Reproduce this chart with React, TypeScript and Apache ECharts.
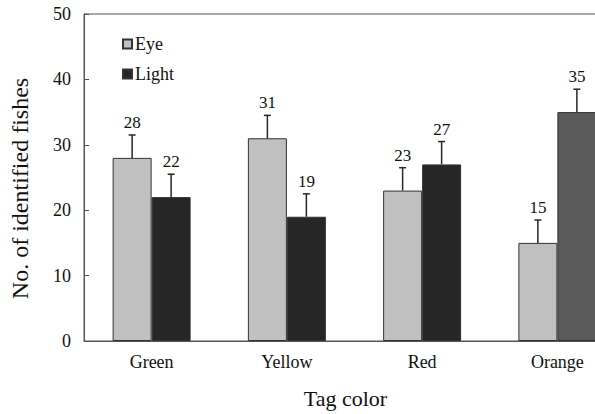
import React, { useEffect, useRef } from "react";
import * as echarts from "echarts";

const categories = ["Green", "Yellow", "Red", "Orange"];
const eyeValues = [28, 31, 23, 15];
const lightValues = [22, 19, 27, 35];
const eyeErrors = [3.5, 3.5, 3.5, 3.5];
const lightErrors = [3.5, 3.5, 3.5, 3.5];
const yTicks = { min: 0, max: 50, interval: 10 };

const FONT = "'Liberation Serif', 'Times New Roman', serif";
const EYE_COLOR = "#c0c0c0";
const LIGHT_COLOR = "#262626";
const ORANGE_LIGHT_COLOR = "#5a5a5a";
const BAR_W = 39;

function errorSeries(values: number[], errors: number[], offset: number) {
  return {
    type: "custom",
    z: 5,
    clip: false,
    silent: true,
    encode: { x: 0, y: 1 },
    data: values.map((v, i) => [i, v, errors[i]]),
    renderItem: (params: any, api: any) => {
      const ci = api.value(0);
      const v = api.value(1);
      const e = api.value(2);
      const base = api.coord([ci, v]);
      const top = api.coord([ci, v + e]);
      const x = base[0] + offset;
      const stroke = { stroke: "#262626", lineWidth: 1.5 };
      return {
        type: "group",
        children: [
          { type: "line", shape: { x1: x, y1: base[1], x2: x, y2: top[1] }, style: stroke },
          { type: "line", shape: { x1: x - 3.5, y1: top[1], x2: x + 3.5, y2: top[1] }, style: stroke },
          {
            type: "text",
            x: x,
            y: top[1] - 4,
            style: {
              text: String(v),
              fill: "#111",
              font: `17px ${FONT}`,
              textAlign: "center",
              textVerticalAlign: "bottom",
            },
          },
        ],
      };
    },
  };
}

export default function App() {
  const ref = useRef<HTMLDivElement>(null);
  useEffect(() => {
    if (!ref.current) return;
    const chart = echarts.init(ref.current, null, { renderer: "svg" });
    chart.setOption({
      animation: false,
      backgroundColor: "#fff",
      textStyle: { fontFamily: FONT },
      grid: {
        left: 81,
        right: 15,
        top: 14,
        bottom: 73,
        show: true,
        borderColor: "#555",
        borderWidth: 1,
      },
      legend: {
        data: ["Eye", "Light"],
        orient: "vertical",
        left: 117,
        top: 30,
        icon: "rect",
        itemWidth: 9,
        itemHeight: 9,
        itemGap: 12,
        textStyle: { fontFamily: FONT, fontSize: 18, color: "#111", padding: [0, 0, 0, -2] },
      },
      xAxis: {
        type: "category",
        data: categories,
        axisLine: { lineStyle: { color: "#555", width: 1 } },
        axisTick: { inside: true, length: 4, lineStyle: { color: "#555" } },
        axisLabel: { fontFamily: FONT, fontSize: 18, color: "#111", margin: 12 },
        name: "Tag color",
        nameLocation: "middle",
        nameGap: 46,
        nameTextStyle: { fontFamily: FONT, fontSize: 22, color: "#111", padding: [0, 18, 0, 0] },
      },
      yAxis: {
        type: "value",
        min: yTicks.min,
        max: yTicks.max,
        interval: yTicks.interval,
        splitLine: { show: false },
        axisLine: { show: true, lineStyle: { color: "#555", width: 1 } },
        axisTick: { show: true, inside: true, length: 5, lineStyle: { color: "#555" } },
        axisLabel: { fontFamily: FONT, fontSize: 18, color: "#111", margin: 13 },
        name: "No. of identified fishes",
        nameLocation: "middle",
        nameGap: 52,
        nameTextStyle: { fontFamily: FONT, fontSize: 24, color: "#111", padding: [0, 22, 0, 0] },
      },
      series: [
        {
          name: "Eye",
          type: "bar",
          barWidth: BAR_W,
          barGap: "0%",
          data: eyeValues,
          itemStyle: { color: EYE_COLOR, borderColor: "#333", borderWidth: 1 },
        },
        {
          name: "Light",
          type: "bar",
          barWidth: BAR_W,
          barGap: "0%",
          data: lightValues.map((v, i) =>
            i === 3 ? { value: v, itemStyle: { color: ORANGE_LIGHT_COLOR } } : v
          ),
          itemStyle: { color: LIGHT_COLOR, borderColor: "#333", borderWidth: 1 },
        },
        errorSeries(eyeValues, eyeErrors, -BAR_W / 2),
        errorSeries(lightValues, lightErrors, BAR_W / 2),
      ],
    });
    return () => chart.dispose();
  }, []);
  return (
    <div
      style={{
        position: "fixed",
        left: 0,
        top: 0,
        width: 595,
        height: 414,
        overflow: "hidden",
        background: "#fff",
      }}
    >
      <div ref={ref} style={{ width: 640, height: 414 }} />
    </div>
  );
}
